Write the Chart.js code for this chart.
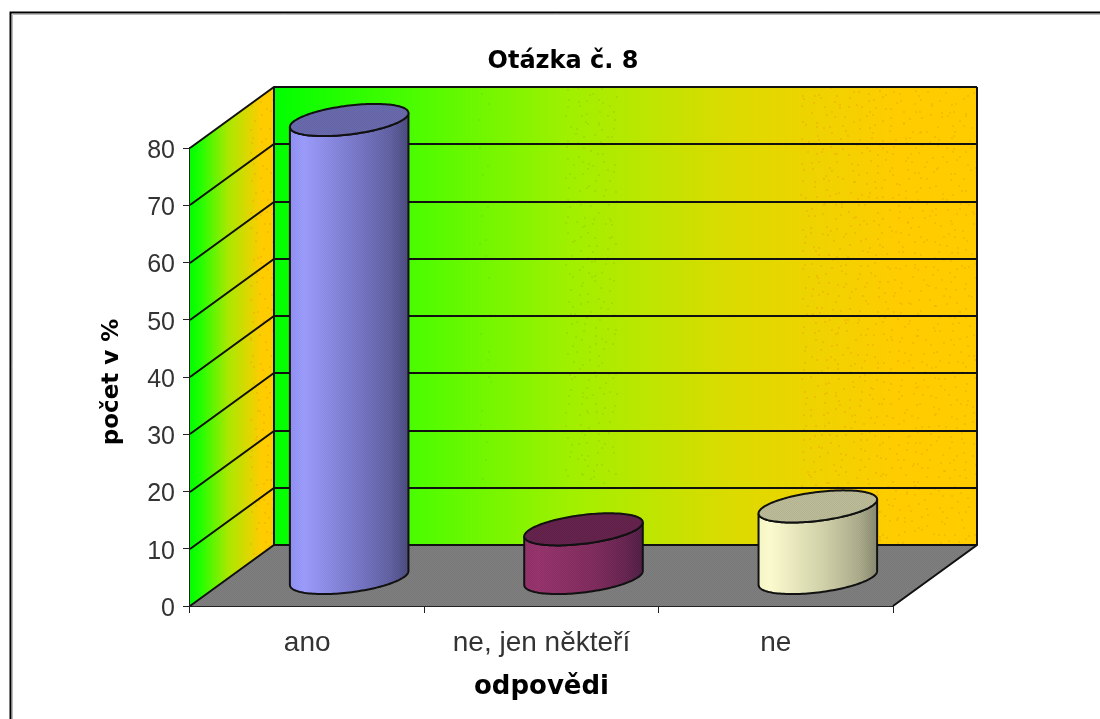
<!DOCTYPE html>
<html><head><meta charset="utf-8">
<style>html,body{margin:0;padding:0;background:#fff}canvas{display:block}</style>
<script src="https://cdn.jsdelivr.net/npm/chart.js@4/dist/chart.umd.js"></script>
</head><body>
<canvas id="c" width="1100" height="719" style="width:1100px;height:719px"></canvas>
<script>
const categories = ['ano', 'ne, jen někteří', 'ne'];
const seriesValues = [80, 8.5, 12.5];
const seriesName = 'počet v %';
const titleText = 'Otázka č. 8';
const xTitle = 'odpovědi';
const yTitle = 'počet v %';
const barColors = ['#9999ff', '#993366', '#ffffcc'];
const bodyStops = [
  [[0,'#8c8cf0'],[0.12,'#9898fa'],[0.6,'#7070c0'],[0.85,'#5c5c9e'],[1,'#46467a']],
  [[0,'#8e2c66'],[0.12,'#922e68'],[0.6,'#7a2658'],[0.85,'#62204c'],[1,'#4c1a40']],
  [[0,'#f4f4c4'],[0.1,'#fafacc'],[0.55,'#cfcfa6'],[0.85,'#a8a888'],[1,'#84846c']]
];
const topColors = ['#6a6aae', '#66234e', '#bdbd9a'];
const DX = 84, DY = -61, FLOOR_SHIFT = 42, BASE_SHIFT = -28;

function lcg(seed){let s=seed>>>0;return()=>(s=(s*1664525+1013904223)>>>0)/4294967296;}
function wallGrad(ctx,x0,x1,stops){const g=ctx.createLinearGradient(x0,0,x1,0);stops.forEach(s=>g.addColorStop(s[0],s[1]));return g;}
function speckle(ctx,x0,x1,y0,y1,step,color,seed){
  const r=lcg(seed);
  ctx.fillStyle=color;
  for(let y=y0;y<y1;y+=step){
    for(let x=x0;x<x1;x+=step){
      const px=Math.floor(x+r()*step),py=Math.floor(y+r()*step);
      if(px<x1-1&&py<y1-1)ctx.fillRect(px,py,2,2);
    }
  }
}
function checker(ctx,color){
  const t=document.createElement('canvas');t.width=2;t.height=2;
  const g=t.getContext('2d');g.fillStyle=color;g.fillRect(0,0,1,1);g.fillRect(1,1,1,1);
  return ctx.createPattern(t,'repeat');
}
const scene = {
  id:'scene3d',
  afterLayout(chart){
    const t=chart.titleBlock; t.left=220; t.right=906; t.width=686;
    const y=chart.scales.y;
    if(!y._shifted){
      const orig=y.drawTitle.bind(y);
      y.drawTitle=function(){const c=chart.ctx;c.save();c.translate(0,5);orig();c.restore();};
      y._shifted=true;
    }
  },
  beforeDraw(chart){
    const c=chart.ctx; c.save();
    c.fillStyle='#fff'; c.fillRect(0,0,1100,719);
    c.strokeStyle='#bbb'; c.lineWidth=1;
    c.beginPath(); c.moveTo(12.5,719); c.lineTo(12.5,14.5); c.lineTo(1100,14.5); c.stroke();
    c.strokeStyle='#000'; c.lineWidth=2;
    c.beginPath(); c.moveTo(10.5,719); c.lineTo(10.5,12.5); c.lineTo(1100,12.5); c.stroke();
    c.restore();
  },
  beforeDatasetsDraw(chart){
    const c=chart.ctx,a=chart.chartArea,y=chart.scales.y;
    const L=a.left,R=a.right,T=a.top,B=a.bottom;
    c.save();
    // back wall
    c.fillStyle=wallGrad(c,L+DX,R+DX,[[0,'#00ff00'],[0.21,'#50fc00'],[0.42,'#a0f000'],[0.635,'#d8dc00'],[0.75,'#ecd400'],[0.89,'#ffcc00'],[1,'#ffcc00']]);
    c.fillRect(L+DX,T+DY,R-L,B-T);
    speckle(c,800,R+DX,T+DY,B+DY,9,'rgba(238,165,0,0.4)',7);
    speckle(c,565,618,T+DY,B+DY-60,9,'rgba(150,190,0,0.3)',11);
    speckle(c,478,492,T+DY,B+DY-60,14,'rgba(110,205,0,0.3)',13);
    // side wall
    c.fillStyle=wallGrad(c,L,L+DX,[[0,'#00ff00'],[0.12,'#20ff00'],[0.45,'#a8e800'],[0.85,'#ffcc00'],[1,'#ffcc00']]);
    c.beginPath();c.moveTo(L,T);c.lineTo(L+DX,T+DY);c.lineTo(L+DX,B+DY);c.lineTo(L,B);c.closePath();c.fill();
    c.save();c.clip();
    speckle(c,L+60,L+DX,T+DY,B,9,'rgba(238,165,0,0.4)',17);
    c.restore();
    // floor
    c.fillStyle='#808080';
    c.beginPath();c.moveTo(L,B);c.lineTo(R,B);c.lineTo(R+DX,B+DY);c.lineTo(L+DX,B+DY);c.closePath();c.fill();
    c.fillStyle=checker(c,'rgba(0,0,0,0.07)');c.fill();
    c.strokeStyle='#111';c.lineWidth=2;
    y.ticks.forEach(t=>{
      const p=Math.round(y.getPixelForValue(t.value));
      c.beginPath();c.moveTo(L,p);c.lineTo(L+DX,p+DY);c.lineTo(R+DX,p+DY);c.stroke();
    });
    c.beginPath();c.moveTo(L+DX,T+DY);c.lineTo(R+DX,T+DY);c.moveTo(L+DX,T+DY);c.lineTo(L+DX,B+DY);c.moveTo(R+DX,T+DY);c.lineTo(R+DX,B+DY);c.lineTo(R,B);c.stroke();
    c.restore();
  },
  beforeDatasetDraw(chart,args){
    const c=chart.ctx,meta=args.meta;
    const basePx=chart.scales.y.getPixelForValue(0);
    meta.data.forEach((el,i)=>{
      const cx=el.x+FLOOR_SHIFT, hw=el.width/2;
      const topY=el.y+BASE_SHIFT, botY=basePx+BASE_SHIFT;
      const skew=hw*0.118, minor=hw*0.244;
      const ell=(yc,t)=>[cx+hw*Math.cos(t), yc-skew*Math.cos(t)+minor*Math.sin(t)];
      const N=72;
      c.save();
      c.beginPath();
      c.moveTo(cx+hw,topY-skew);
      for(let k=0;k<=N;k++){const t=Math.PI*k/N;const p=ell(botY,t);c.lineTo(p[0],p[1]);}
      for(let k=N;k>=0;k--){const t=Math.PI*k/N;const p=ell(topY,t);c.lineTo(p[0],p[1]);}
      c.closePath();
      const g=c.createLinearGradient(cx-hw,0,cx+hw,0);
      bodyStops[i].forEach(s=>g.addColorStop(s[0],s[1]));
      c.fillStyle=g;c.fill();
      c.fillStyle=checker(c,'rgba(255,255,255,0.05)');c.fill();
      c.strokeStyle='#111';c.lineWidth=2;c.stroke();
      c.beginPath();
      for(let k=0;k<=2*N;k++){const t=Math.PI*k/N;const p=ell(topY,t);k?c.lineTo(p[0],p[1]):c.moveTo(p[0],p[1]);}
      c.closePath();
      c.fillStyle=topColors[i];c.fill();
      c.fillStyle=checker(c,'rgba(0,0,0,0.06)');c.fill();
      c.stroke();
      c.restore();
    });
    return false;
  }
};
new Chart(document.getElementById('c'),{
  type:'bar',
  data:{labels:categories,datasets:[{label:seriesName,data:seriesValues,backgroundColor:barColors,categoryPercentage:1,barPercentage:0.506}]},
  plugins:[scene],
  options:{
    responsive:false,animation:false,
    layout:{autoPadding:false,padding:{left:0,right:207,top:0,bottom:0}},
    plugins:{
      legend:{display:false},tooltip:{enabled:false},
      title:{display:true,text:titleText,color:'#000',font:{family:'"DejaVu Sans"',size:24,weight:'bold',lineHeight:1.2},padding:{top:47.5,bottom:71.7}}
    },
    scales:{
      x:{
        grid:{display:true,drawOnChartArea:false,drawTicks:true,tickLength:7,color:'#222',offset:true},
        border:{display:true,color:'#222',width:2},
        ticks:{color:'#333',font:{family:'"Liberation Sans"',size:28},padding:13,maxRotation:0,autoSkip:false},
        title:{display:true,text:xTitle,color:'#000',font:{family:'"DejaVu Sans"',size:26,weight:'bold'},padding:{top:0,bottom:16}},
        afterFit(s){s.height=113;}
      },
      y:{
        min:0,max:80,
        grid:{display:true,drawOnChartArea:false,drawTicks:true,tickLength:7,color:'#222'},
        border:{display:true,color:'#222',width:2},
        ticks:{stepSize:10,color:'#333',font:{family:'"Liberation Sans"',size:25},padding:8,labelOffset:3},
        title:{display:true,text:yTitle,color:'#000',font:{family:'"DejaVu Sans"',size:23,weight:'bold'},padding:{top:98,bottom:0}},
        afterFit(s){s.width=190;}
      }
    }
  }
});
</script>
</body></html>
